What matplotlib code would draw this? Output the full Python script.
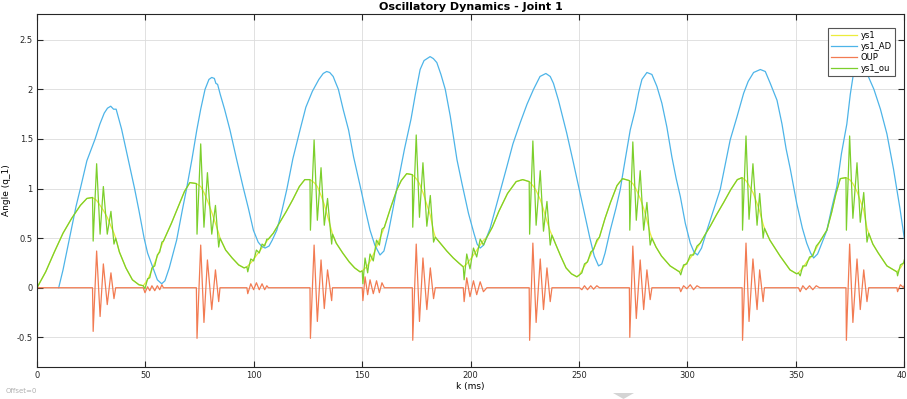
import numpy as np
import matplotlib.pyplot as plt
from matplotlib.patches import Polygon

# ---- data (k in ms, angle in rad) ----
# ys1 : smooth reference trajectory (mostly hidden under ys1_ou)
k_ys1 = [0, 4, 8, 12, 16, 20, 23, 25.6, 27.5, 29.1, 30.6, 32.4, 34.1, 35.5, 36.3, 38, 41, 44, 47, 49,
         51, 53, 55, 57, 58.3, 62, 65, 68, 70.5, 73.5, 75.5, 77, 78.6, 80.6, 82.3, 83.8, 84.4, 87, 90, 93, 95.5,
         96.8, 99, 101, 103, 105, 106.7, 109, 112, 115, 118, 121, 123.5, 125.9, 127.8, 129.3, 131, 132.5, 134,
         135.9, 136.3, 138, 141, 144, 146.5, 149,
         150, 152, 154, 156, 158, 160.2, 163, 166, 168, 170.5, 173.1, 174.9, 176.4, 178, 179.8, 181.4, 182.9,
         183.7, 186, 189, 192, 194.5, 196.6,
         198.2, 200, 202, 204, 206, 207.5, 210, 213, 217, 221, 224, 227, 228.7, 230.2, 232.1, 233.6, 235.2,
         236.7, 237.5, 239, 241.5, 244, 246.5, 249,
         250.2, 252, 254, 256, 258, 259.4, 262, 264.5, 267.5, 270, 273.2, 274.8, 276.4, 278.2, 279.8, 281.3,
         282.8, 283.6, 285.5, 288, 292, 296.3,
         298.2, 300, 302, 304.4, 305.9, 308, 310.5, 313.5, 316.7, 320, 323, 325.2, 327, 328.4, 330.2, 332.1,
         333.3, 334.9, 335.5, 338, 342.7, 347.3, 350.4,
         351.2, 353.2, 355, 357, 359, 360.9, 364.3, 366.5, 368.5, 370.5, 373.1, 374.8, 376.3, 378.2, 379.7,
         381.3, 382.8, 383.6, 385.5, 388, 392, 396.6, 398.2, 400]
ys1 = [0, 0.16, 0.36, 0.55, 0.7, 0.83, 0.9, 0.91, 0.88, 0.83, 0.78, 0.71, 0.62, 0.55, 0.5, 0.36, 0.2, 0.08, 0.03, 0.02,
       0.08, 0.18, 0.29, 0.4, 0.47, 0.65, 0.81, 0.97, 1.06, 1.05, 1.02, 0.96, 0.88, 0.76, 0.65, 0.55, 0.5, 0.38, 0.3, 0.23, 0.2,
       0.21, 0.26, 0.32, 0.38, 0.44, 0.49, 0.55, 0.66, 0.77, 0.89, 1.02, 1.09, 1.09, 1.06, 1.02, 0.93, 0.84, 0.72,
       0.57, 0.54, 0.45, 0.35, 0.26, 0.2, 0.16,
       0.17, 0.21, 0.28, 0.38, 0.49, 0.61, 0.8, 0.99, 1.08, 1.15, 1.14, 1.1, 1.05, 0.96, 0.84, 0.73, 0.57,
       0.51, 0.45, 0.37, 0.3, 0.25, 0.21,
       0.24, 0.29, 0.35, 0.42, 0.48, 0.51, 0.61, 0.77, 0.95, 1.07, 1.09, 1.07, 1.03, 0.98, 0.89, 0.79, 0.67,
       0.57, 0.53, 0.45, 0.32, 0.2, 0.14, 0.11,
       0.13, 0.2, 0.27, 0.36, 0.45, 0.51, 0.7, 0.86, 1.03, 1.1, 1.08, 1.05, 0.99, 0.9, 0.8, 0.68,
       0.55, 0.5, 0.41, 0.32, 0.22, 0.16,
       0.21, 0.26, 0.32, 0.4, 0.45, 0.53, 0.62, 0.74, 0.86, 0.99, 1.09, 1.11, 1.08, 1.03, 0.96, 0.85,
       0.77, 0.64, 0.6, 0.48, 0.32, 0.18, 0.14,
       0.15, 0.2, 0.26, 0.31, 0.38, 0.46, 0.58, 0.76, 0.95, 1.1, 1.11, 1.09, 1.05, 0.97, 0.88,
       0.78, 0.6, 0.55, 0.44, 0.35, 0.22, 0.16, 0.2, 0.26]

# ys1_AD : adaptive-controller joint angle
k_ad = [10, 12, 15, 18, 20, 23, 26.8, 29, 31, 32.5, 34, 35.3, 36.5, 37.5, 39, 40.5, 42.5, 45, 47, 49.4, 51, 53.5,
        55.5, 57.5, 59, 61, 64.4, 67, 69, 71.5, 73.7, 75.5, 77.5, 79.3, 80.6, 81.8, 82.5, 83.3, 84.5, 86.5, 89,
        92, 95, 97.5, 99.8, 102, 103.5, 105.2, 107, 108.5, 110.6, 113, 115.2, 118, 121.3, 124, 127, 130, 132,
        133.6, 135, 136.6, 137.5, 139, 141.3, 143.7, 146, 149.1, 151.5, 153.6, 155.8, 158.2, 160, 162, 164.4,
        167, 169.5, 172.5, 174.5, 176.7, 178.5, 181.3, 182.8, 184.4, 186.3, 188.3, 190.6, 193.7, 196, 199,
        201.5, 203, 204.4, 206, 209, 211.5, 214, 216.7, 219.5, 222.8, 226, 229, 232, 234.7, 236.7, 238.2,
        240.5, 244.3, 247.4, 250, 252.5, 255, 257, 259, 260.5, 262, 264.4, 267, 269, 270.5, 273.6, 275.9,
        277.5, 279, 281.3, 283.6, 285.9, 288.2, 290.5, 292.8, 294.8, 296.7, 299, 301.3, 303, 304.6, 306.5,
        309, 312, 315.1, 317.5, 319.7, 322.8, 325.9, 328, 330.5, 333.6, 335.9, 338.2, 341.3, 343.6, 345.5,
        347.4, 350.4, 353, 355, 356.8, 358.2, 360, 362, 364.3, 366.5, 368.9, 371, 373.5, 375.1, 376.5, 377.5,
        379, 380.5, 383, 386, 389, 392, 395, 398, 400]
ys1_ad = [0, 0.18, 0.5, 0.82, 1.0, 1.28, 1.5, 1.65, 1.76, 1.81, 1.83, 1.8, 1.8, 1.72, 1.6, 1.45, 1.25, 1.0, 0.78, 0.5, 0.35, 0.2,
          0.08, 0.04, 0.07, 0.2, 0.48, 0.78, 1.0, 1.3, 1.59, 1.8, 2.0, 2.1, 2.12, 2.11, 2.06, 2.05, 1.95, 1.8, 1.59,
          1.3, 1.02, 0.8, 0.58, 0.46, 0.42, 0.4, 0.42, 0.48, 0.58, 0.78, 0.99, 1.3, 1.59, 1.82, 1.98, 2.1, 2.16,
          2.18, 2.17, 2.13, 2.08, 2.0, 1.79, 1.59, 1.32, 1.02, 0.78, 0.58, 0.43, 0.33, 0.37, 0.55, 0.82,
          1.12, 1.4, 1.7, 1.95, 2.2, 2.29, 2.33, 2.31, 2.27, 2.15, 2.0, 1.73, 1.29, 1.05, 0.75,
          0.55, 0.44, 0.4, 0.43, 0.6, 0.8, 1.0, 1.22, 1.45, 1.66, 1.85, 2.0, 2.13, 2.16, 2.13, 2.06,
          1.89, 1.56, 1.26, 1.0, 0.75, 0.5, 0.32, 0.22, 0.24, 0.35, 0.58, 0.8, 0.99, 1.19, 1.59, 1.79,
          1.97, 2.1, 2.17, 2.15, 2.03, 1.86, 1.62, 1.32, 1.1, 0.92, 0.65, 0.45, 0.36, 0.33, 0.4,
          0.58, 0.78, 0.99, 1.25, 1.49, 1.72, 1.96, 2.08, 2.17, 2.2, 2.18, 2.06, 1.89, 1.65, 1.4,
          1.2, 0.85, 0.6, 0.45, 0.35, 0.3, 0.34, 0.45, 0.58, 0.8, 1.02, 1.35, 1.65, 1.95, 2.15, 2.24,
          2.24, 2.2, 2.15, 2.0, 1.8, 1.55, 1.2, 0.8, 0.5]

# OUP : Ornstein-Uhlenbeck perturbation bursts
k_oup = [0,
         25.6, 25.9, 27.5, 29.1, 30.6, 32.4, 34.1, 35.5, 36.3,
         49.0, 49.8, 51.0, 52.0, 53.0, 54.3, 55.5, 56.6, 57.6, 58.3,
         73.5, 73.8, 75.5, 77.0, 78.6, 80.6, 82.3, 83.8, 84.4,
         96.8, 97.2, 98.6, 99.9, 101.2, 102.5, 103.8, 105.0, 106.0, 106.7,
         125.9, 126.1, 127.8, 129.3, 131.0, 132.5, 134.0, 135.9, 136.3,
         150.0, 150.3, 151.3, 152.5, 153.6, 155.1, 156.6, 157.9, 159.1, 160.2,
         173.1, 173.3, 174.9, 176.4, 178.0, 179.8, 181.4, 182.9, 183.7,
         196.6, 197.0, 198.2, 199.7, 201.3, 202.8, 204.4, 205.9, 207.5,
         227.0, 227.2, 228.7, 230.2, 232.1, 233.6, 235.2, 236.7, 237.5,
         250.2, 251.3, 252.5, 253.9, 255.4, 256.7, 258.2, 259.4,
         273.2, 273.4, 274.8, 276.4, 278.2, 279.8, 281.3, 282.8, 283.6,
         296.3, 296.9, 298.2, 299.7, 301.3, 302.8, 304.4, 305.9,
         325.2, 325.4, 327.0, 328.4, 330.2, 332.1, 333.3, 334.9, 335.5,
         351.2, 352.0, 353.2, 354.7, 356.3, 357.8, 359.4, 360.9,
         373.1, 373.3, 374.8, 376.3, 378.2, 379.7, 381.3, 382.8, 383.6,
         396.6, 396.9, 398.2, 399.7, 400]
oup = [0,
       0, -0.44, 0.37, -0.29, 0.24, -0.17, 0.15, -0.11, 0,
       0, -0.05, 0.01, -0.03, 0.02, -0.03, 0.02, -0.02, 0.03, 0,
       0, -0.51, 0.43, -0.35, 0.28, -0.22, 0.18, -0.14, 0,
       0, -0.06, 0.04, -0.02, 0.05, -0.02, 0.04, -0.02, 0.02, 0,
       0, -0.51, 0.43, -0.34, 0.28, -0.21, 0.18, -0.13, 0,
       0, -0.13, 0.11, -0.07, 0.08, -0.06, 0.07, -0.05, 0.05, 0,
       0, -0.53, 0.44, -0.34, 0.30, -0.22, 0.20, -0.11, 0,
       0, -0.14, 0.10, -0.09, 0.07, -0.07, 0.06, -0.04, 0,
       0, -0.53, 0.45, -0.35, 0.29, -0.22, 0.20, -0.14, 0,
       0, -0.02, 0.02, -0.02, 0.02, -0.015, 0.02, 0,
       0, -0.50, 0.42, -0.31, 0.28, -0.22, 0.18, -0.12, 0,
       0, -0.04, 0.02, -0.01, 0.03, -0.02, 0.02, 0,
       0, -0.53, 0.45, -0.34, 0.29, -0.22, 0.18, -0.14, 0,
       0, -0.04, 0.02, -0.02, 0.02, -0.02, 0.02, 0,
       0, -0.53, 0.44, -0.35, 0.29, -0.22, 0.18, -0.14, 0,
       0, -0.04, 0.03, 0, 0.02]

# ys1_ou : trajectory with the OU perturbation on top
k_ou = [0, 4, 8, 12, 16, 20, 23, 25.6, 25.9, 27.5, 29.1, 30.6, 32.4, 34.1, 35.5, 36.3, 38, 41, 44, 47,
        49, 49.8, 51, 52, 53, 54.3, 55.5, 56.6, 57.6, 58.3, 62, 65, 68, 70.5,
        73.5, 73.8, 75.5, 77, 78.6, 80.6, 82.3, 83.8, 84.4, 87, 90, 93, 95.5,
        96.8, 97.2, 98.6, 99.9, 101.2, 102.5, 103.8, 105, 106, 106.7, 109, 112, 115, 118, 121, 123.5,
        125.9, 126.1, 127.8, 129.3, 131, 132.5, 134, 135.9, 136.3, 138, 141, 144, 146.5, 149,
        150, 150.3, 151.3, 152.5, 153.6, 155.1, 156.6, 157.9, 159.1, 160.2, 163, 166, 168, 170.5,
        173.1, 173.3, 174.9, 176.4, 178, 179.8, 181.4, 182.9, 183.7, 186, 189, 192, 194.5,
        196.6, 197, 198.2, 199.7, 201.3, 202.8, 204.4, 205.9, 207.5, 210, 213, 217, 221, 224,
        227, 227.2, 228.7, 230.2, 232.1, 233.6, 235.2, 236.7, 237.5, 239, 241.5, 244, 246.5, 249,
        250.2, 251.3, 252.5, 253.9, 255.4, 256.7, 258.2, 259.4, 262, 264.5, 267.5, 270,
        273.2, 273.4, 274.8, 276.4, 278.2, 279.8, 281.3, 282.8, 283.6, 285.5, 288, 292,
        296.3, 296.9, 298.2, 299.7, 301.3, 302.8, 304.4, 305.9, 308, 310.5, 313.5, 316.7, 320, 323,
        325.2, 325.4, 327, 328.4, 330.2, 332.1, 333.3, 334.9, 335.5, 338, 342.7, 347.3, 350.4,
        351.2, 352, 353.2, 354.7, 356.3, 357.8, 359.4, 360.9, 364.3, 366.5, 368.5, 370.5,
        373.1, 373.3, 374.8, 376.3, 378.2, 379.7, 381.3, 382.8, 383.6, 385.5, 388, 392,
        396.6, 396.9, 398.2, 399.7, 400]
ys1_ou = [0, 0.16, 0.36, 0.55, 0.7, 0.83, 0.9, 0.91, 0.47, 1.25, 0.54, 1.02, 0.54, 0.77, 0.44, 0.5, 0.36, 0.2, 0.08, 0.03,
          0.02, -0.01, 0.09, 0.1, 0.2, 0.22, 0.33, 0.36, 0.46, 0.47, 0.65, 0.81, 0.97, 1.06,
          1.05, 0.54, 1.45, 0.61, 1.16, 0.54, 0.83, 0.41, 0.5, 0.38, 0.3, 0.23, 0.2,
          0.21, 0.16, 0.29, 0.27, 0.38, 0.35, 0.44, 0.42, 0.49, 0.49, 0.55, 0.66, 0.77, 0.89, 1.02, 1.09,
          1.09, 0.58, 1.49, 0.68, 1.21, 0.63, 0.9, 0.44, 0.54, 0.45, 0.35, 0.26, 0.2, 0.16,
          0.17, 0.04, 0.3, 0.15, 0.34, 0.27, 0.48, 0.43, 0.59, 0.61, 0.8, 0.99, 1.08, 1.15,
          1.14, 0.61, 1.54, 0.71, 1.26, 0.62, 0.93, 0.46, 0.51, 0.45, 0.37, 0.3, 0.25,
          0.21, 0.08, 0.34, 0.19, 0.4, 0.31, 0.49, 0.43, 0.51, 0.61, 0.77, 0.95, 1.07, 1.09,
          1.07, 0.54, 1.48, 0.63, 1.18, 0.57, 0.87, 0.43, 0.53, 0.45, 0.32, 0.2, 0.14, 0.11,
          0.13, 0.15, 0.24, 0.26, 0.36, 0.385, 0.48, 0.51, 0.7, 0.86, 1.03, 1.1,
          1.08, 0.58, 1.47, 0.68, 1.18, 0.58, 0.86, 0.43, 0.5, 0.41, 0.32, 0.22,
          0.16, 0.13, 0.23, 0.24, 0.33, 0.33, 0.42, 0.45, 0.53, 0.62, 0.74, 0.86, 0.99, 1.09,
          1.11, 0.58, 1.53, 0.69, 1.25, 0.63, 0.95, 0.5, 0.6, 0.48, 0.32, 0.18, 0.14,
          0.15, 0.12, 0.22, 0.22, 0.31, 0.32, 0.42, 0.46, 0.58, 0.76, 0.95, 1.1,
          1.11, 0.58, 1.53, 0.7, 1.26, 0.66, 0.96, 0.46, 0.55, 0.44, 0.35, 0.22,
          0.16, 0.12, 0.23, 0.25, 0.28]

x_ticks = [0, 50, 100, 150, 200, 250, 300, 350, 400]
y_ticks = [-0.5, 0, 0.5, 1, 1.5, 2, 2.5]

c_ys1 = '#ecec3c'
c_ad = '#4db4e8'
c_oup = '#f27b52'
c_ou = '#7ccf2c'
c_axis = '#262626'

fig = plt.figure(figsize=(9.07, 3.99), dpi=100)
ax = fig.add_axes([0.0408, 0.080, 0.9562, 0.885])

lw = 0.9
ax.plot(k_ys1, ys1, color=c_ys1, lw=lw, label='ys1')
ax.plot(k_ad, ys1_ad, color=c_ad, lw=lw, label='ys1_AD')
ax.plot(k_oup, oup, color=c_oup, lw=lw, label='OUP')
ax.plot(k_ou, ys1_ou, color=c_ou, lw=lw, label='ys1_ou')

ax.set_xlim(0, 400)
ax.set_ylim(-0.8, 2.76)
ax.set_xticks(x_ticks)
ax.set_yticks(y_ticks)
ax.set_xticklabels([str(v) for v in x_ticks])
ax.set_yticklabels(['-0.5', '0', '0.5', '1', '1.5', '2', '2.5'])
ax.grid(True, color='#dcdcdc', lw=0.6)
ax.set_axisbelow(True)
ax.tick_params(direction='in', length=4, width=0.8, colors=c_axis, labelsize=6,
               top=True, right=True, pad=3)
for s in ax.spines.values():
    s.set_color(c_axis)
    s.set_linewidth(0.8)

ax.set_title('Oscillatory Dynamics - Joint 1', fontsize=8, fontweight='bold', pad=3)
ax.set_xlabel('k (ms)', fontsize=6.5, labelpad=1)
ax.set_ylabel('Angle (q_1)', fontsize=6.5, labelpad=4)

leg = ax.legend(loc='upper right', bbox_to_anchor=(0.989, 0.960), fontsize=6, frameon=True,
                fancybox=False, handlelength=3.2, handletextpad=0.4, borderpad=0.35,
                labelspacing=0.25, borderaxespad=0, framealpha=1)
leg.get_frame().set_edgecolor('#555555')
leg.get_frame().set_linewidth(0.8)

fig.text(0.006, 0.015, 'Offset=0', fontsize=5, color='#b0b0b0')

# faint grey marker at the bottom edge of the page
fig.patches.append(Polygon([[613, 6], [634, 6], [623.5, 0]], closed=True,
                           transform=None, facecolor='#d4d4d4', edgecolor='none'))

fig.savefig('out.png', dpi=100)
